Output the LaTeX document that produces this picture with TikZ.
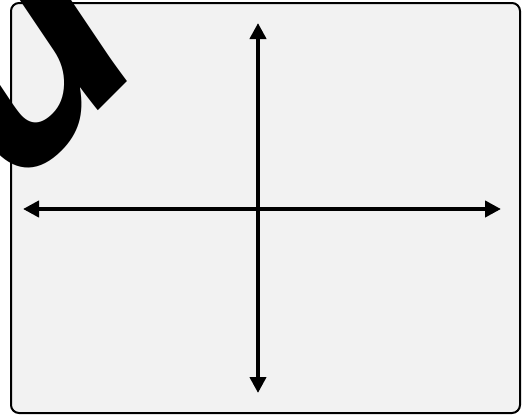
\documentclass[tikz,border=0pt]{standalone}
\usepackage{fontspec}
\setmainfont{Liberation Sans}
\usetikzlibrary{arrows.meta}
\definecolor{panel}{HTML}{F2F2F2}
\begin{document}
\begin{tikzpicture}[x=1pt,y=-1pt,
  axis/.style={line width=4pt, {Triangle[length=16pt,width=16pt]}-{Triangle[length=16pt,width=16pt]}},
  frame/.style={draw=black, line width=2pt, fill=panel, rounded corners=8pt},
  bigglyph/.style={rotate=45, anchor=base west, inner sep=0pt, text=black, font=\bfseries\itshape\fontsize{315}{315}\selectfont}]
\useasboundingbox (0,0) rectangle (523,416);
\clip (0,0) rectangle (523,416);
\draw[frame] (11,3) rectangle (520,413);
\coordinate (top) at (258,23);
\coordinate (bottom) at (258,393);
\coordinate (left) at (23,209);
\coordinate (right) at (501,209);
\draw[axis] (top) -- (bottom);
\draw[axis] (left) -- (right);
\node[bigglyph] (glyph) at (17,191.3) {u};
\end{tikzpicture}
\end{document}
